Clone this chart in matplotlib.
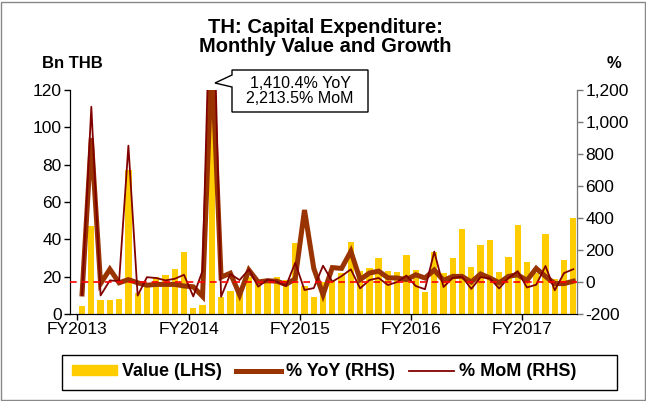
import matplotlib
matplotlib.use('Agg')
import matplotlib.pyplot as plt
from matplotlib.patches import Polygon, Patch
from matplotlib.lines import Line2D
import numpy as np

plt.rcParams['font.family'] = ['Liberation Sans', 'DejaVu Sans']

# monthly data, Oct 2012 (FY2013) .. Mar 2017
value = [4.3, 47.3, 7.5, 7.5, 8.2, 77, 11, 15.5, 19.6, 21, 24, 33,
         3, 5, 116, 9.3, 12.5, 12, 20, 18, 18, 19.6, 18, 38,
         15, 9, 17, 18, 21.8, 38.4, 23, 24.8, 30, 23, 22.3, 31.6,
         23.6, 12, 33.4, 22, 30, 45.4, 25.4, 37, 39.6, 22.5, 30.5, 47.5,
         27.9, 22, 43, 18.7, 29, 51.3]
yoy = [-75, 900, -10, 80, -5, 15, -5, -20, -15, -15, -15, -25,
       -30, -90, 1410.4, 30, 55, -80, 75, 0, 8, 5, -15, 20,
       450, 85, -80, 90, 85, 192, 15, 56, 68, 26, 25, 15,
       45, 25, 75, 10, 35, 35, 0, 50, 25, -5, 35, 45,
       10, 85, 35, -10, -10, 5]
mom = [-80, 1095, -84, 10, 5, 852, -85, 30, 25, 10, 20, 45,
       -90, 70, 2213.5, -92, 50, 12, 79, -29, 15, 2, -25, 120,
       -50, -38, 102, 2, 37, 79, -40, 12, 25, -19, 0, 40,
       -25, -45, 190, -31, 26, 33, -43, 30, 23, -40, 25, 68,
       -34, -17, 100, -52, 56, 80]
fy_labels = ['FY2013', 'FY2014', 'FY2015', 'FY2016', 'FY2017']

W, H = 646, 401
fig = plt.figure(figsize=(W / 100, H / 100), dpi=100)
ax = fig.add_axes([70 / W, 1 - 314 / H, 507 / W, 224 / H])
ax2 = ax.twinx()

x = np.arange(len(value))
ax.bar(x, value, width=0.68, color='#FFCC00', zorder=2)
ax2.plot(x, yoy, color='#993300', lw=3.6, zorder=3, solid_joinstyle='miter')
ax2.plot(x, mom, color='#800000', lw=1.3, zorder=4)
ax2.axhline(0, color='#FF0000', lw=1.2, ls=(0, (4, 3)), zorder=5)

ax.set_xlim(-1.3, 53.4)
ax.set_ylim(0, 120)
ax2.set_ylim(-200, 1200)
ax.set_yticks(range(0, 121, 20))
ax2.set_yticks(range(-200, 1201, 200))
ax2.set_yticklabels([f'{v:,}' for v in range(-200, 1201, 200)])
ax.set_xticks([12 * k - 0.5 for k in range(len(fy_labels))])
ax.set_xticklabels(fy_labels)

for a in (ax, ax2):
    a.spines['top'].set_visible(False)
    a.tick_params(labelsize=12.5, length=4, width=1, direction='out', pad=2)
ax2.spines['right'].set_color('#777777')
ax2.tick_params(axis='y', colors='#777777', labelcolor='black')

fig.text(325 / W, 1 - 37 / H, 'TH: Capital Expenditure:\nMonthly Value and Growth',
         ha='center', va='center', fontsize=14.5, fontweight='bold', linespacing=1.05)
fig.text(42 / W, 1 - 63 / H, 'Bn THB', ha='left', va='center', fontsize=12, fontweight='bold')
fig.text(614 / W, 1 - 63 / H, '%', ha='center', va='center', fontsize=12, fontweight='bold')

# callout box for the clipped spike
pts = [(232, 70), (368, 70), (368, 112), (232, 112), (232, 87), (215, 83), (232, 75)]
fig.patches.append(Polygon([(px / W, 1 - py / H) for px, py in pts], closed=True,
                           transform=fig.transFigure, fc='white', ec='black', lw=1, zorder=10))
fig.text(300 / W, 1 - 91 / H, '1,410.4% YoY\n2,213.5% MoM', ha='center', va='center',
         fontsize=11.5, linespacing=1.05, zorder=11)

# legend
handles = [Patch(color='#FFCC00'), Line2D([], [], color='#993300', lw=3.6),
           Line2D([], [], color='#800000', lw=1.3)]
fig.legend(handles, ['Value (LHS)', '% YoY (RHS)', '% MoM (RHS)'],
           loc='center left', ncol=3, bbox_to_anchor=(72 / W, 1 - 372 / H),
           prop={'weight': 'bold', 'size': 13}, frameon=False,
           handlelength=2.5, handleheight=0.45, handletextpad=0.25,
           borderaxespad=0, borderpad=0, columnspacing=0.8)
fig.patches.append(plt.Rectangle((62 / W, 1 - 390 / H), 555 / W, 35 / H,
                                 transform=fig.transFigure, fill=False, ec='black', lw=1))

fig.patches.append(plt.Rectangle((0.002, 0.002), 0.996, 0.994, transform=fig.transFigure,
                                 fill=False, ec='#888888', lw=1))

fig.savefig('out.png', dpi=100)
